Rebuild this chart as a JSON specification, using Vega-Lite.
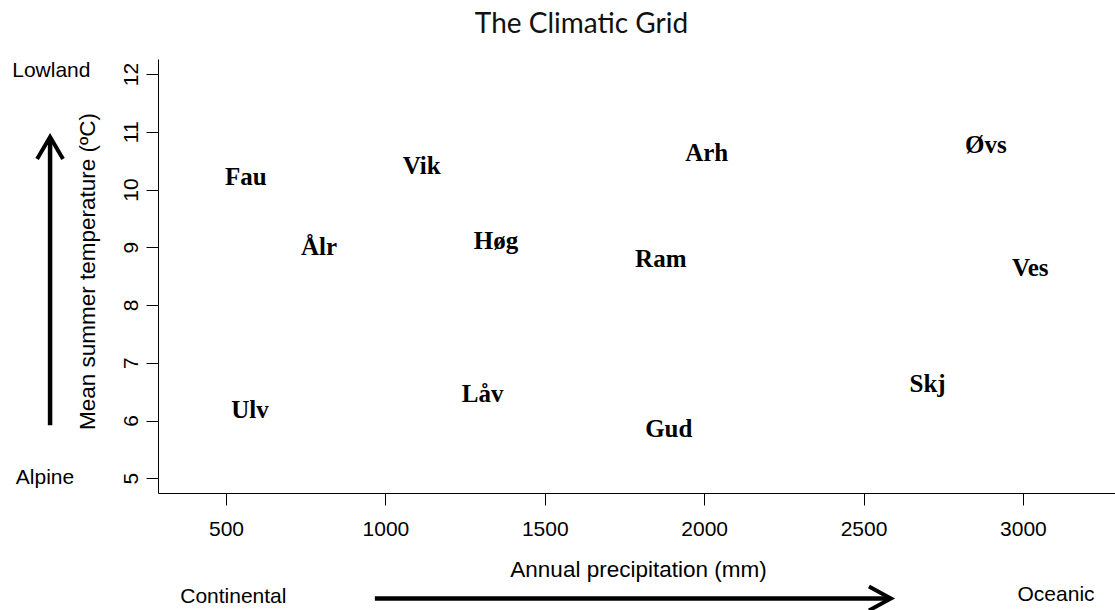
{
  "$schema": "https://vega.github.io/schema/vega-lite/v6.json",
  "width": 957,
  "height": 434,
  "autosize": {"type": "none"},
  "padding": {"left": 158, "top": 59, "right": 0, "bottom": 117},
  "background": "white",
  "config": {
    "view": {"stroke": null},
    "axis": {
      "grid": false,
      "domainColor": "black",
      "tickColor": "black",
      "labelColor": "black",
      "titleColor": "black",
      "labelFont": "Liberation Sans",
      "titleFont": "Liberation Sans",
      "labelFontSize": 21,
      "titleFontSize": 22.5,
      "titleFontWeight": "normal",
      "tickSize": 12,
      "domainWidth": 1,
      "tickWidth": 1
    }
  },
  "title": {
    "text": "The Climatic Grid",
    "font": "Lato",
    "fontSize": 28,
    "fontWeight": "normal",
    "color": "#111111",
    "anchor": "middle",
    "dx": -55,
    "dy": 28,
    "baseline": "alphabetic",
    "offset": 26
  },
  "datasets": {
    "sites": [
      {"site": "Fau", "precip": 562, "temp": 10.21},
      {"site": "Vik", "precip": 1114, "temp": 10.41},
      {"site": "Ålr", "precip": 792, "temp": 9.01},
      {"site": "Høg", "precip": 1347, "temp": 9.10},
      {"site": "Arh", "precip": 2008, "temp": 10.63},
      {"site": "Ram", "precip": 1864, "temp": 8.80},
      {"site": "Øvs", "precip": 2884, "temp": 10.77},
      {"site": "Ves", "precip": 3023, "temp": 8.64},
      {"site": "Skj", "precip": 2701, "temp": 6.63},
      {"site": "Ulv", "precip": 575, "temp": 6.19},
      {"site": "Låv", "precip": 1305, "temp": 6.46},
      {"site": "Gud", "precip": 1889, "temp": 5.85}
    ],
    "notes": [
      {"label": "Lowland", "precip": -48, "temp": 12.06},
      {"label": "Alpine", "precip": -68, "temp": 5.01},
      {"label": "Continental", "precip": 523, "temp": 2.95},
      {"label": "Oceanic", "precip": 3104, "temp": 2.98}
    ],
    "shafts": [
      {"precip": -52, "temp": 5.92, "precip2": -52, "temp2": 10.88},
      {"precip": 967, "temp": 2.92, "precip2": 2580, "temp2": 2.92}
    ],
    "heads": [
      {"dir": "up", "precip": -52, "temp": 10.91},
      {"dir": "right", "precip": 2586, "temp": 2.92}
    ]
  },
  "encoding": {
    "x": {
      "field": "precip", "type": "quantitative",
      "scale": {"domain": [286.6, 3289], "nice": false, "zero": false},
      "axis": {
        "values": [500, 1000, 1500, 2000, 2500, 3000],
        "format": "d",
        "title": "Annual precipitation (mm)",
        "labelPadding": 13,
        "labelBaseline": "top",
        "labelFlush": false,
        "labelOverlap": false,
        "titleBaseline": "alphabetic",
        "titleX": 480,
        "titleY": 83
      }
    },
    "y": {
      "field": "temp", "type": "quantitative",
      "scale": {"domain": [4.745, 12.26], "nice": false, "zero": false},
      "axis": {
        "values": [5, 6, 7, 8, 9, 10, 11, 12],
        "title": "Mean summer temperature (ºC)",
        "labelAngle": 270,
        "labelAlign": "center",
        "labelBaseline": "alphabetic",
        "labelPadding": 9,
        "labelFlush": false,
        "labelOverlap": false,
        "titleAngle": 270,
        "titleAlign": "center",
        "titleBaseline": "alphabetic",
        "titleX": -64,
        "titleY": 212
      }
    }
  },
  "layer": [
    {
      "data": {"name": "sites"},
      "mark": {"type": "text", "font": "Liberation Serif", "fontWeight": "bold", "fontSize": 25, "align": "center", "baseline": "middle", "color": "black"},
      "encoding": {
        "text": {"field": "site", "type": "nominal"}
      }
    },
    {
      "data": {"name": "shafts"},
      "mark": {"type": "rule", "color": "black", "strokeWidth": 4.5},
      "encoding": {
        "x2": {"field": "precip2"},
        "y2": {"field": "temp2"}
      }
    },
    {
      "data": {"name": "heads"},
      "mark": {"type": "point", "filled": false, "stroke": "black", "strokeWidth": 4, "size": 576, "opacity": 1},
      "encoding": {
        "shape": {
          "field": "dir", "type": "nominal",
          "scale": {"domain": ["up", "right"], "range": ["M -1.08 1.83 L 0 0 L 1.08 1.83", "M -1.83 -1 L 0 0 L -1.83 1"]},
          "legend": null
        }
      }
    },
    {
      "data": {"name": "notes"},
      "mark": {"type": "text", "font": "Liberation Sans", "fontSize": 21, "align": "center", "baseline": "middle", "color": "black"},
      "encoding": {
        "text": {"field": "label", "type": "nominal"}
      }
    },
    {
      "data": {"values": [{"edge": "top"}]},
      "mark": {"type": "rule", "color": "black", "strokeWidth": 1},
      "encoding": {
        "x": {"datum": 286.6, "type": "quantitative"},
        "x2": {"datum": 3289},
        "y": {"datum": 12.2513, "type": "quantitative"}
      }
    }
  ]
}
